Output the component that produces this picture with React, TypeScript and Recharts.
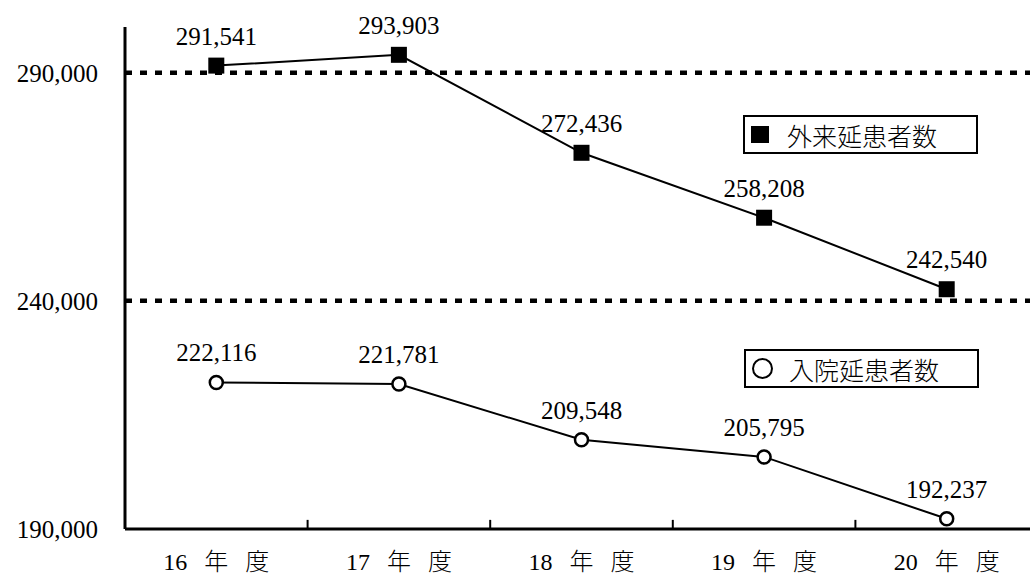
import React from 'react';
import { LineChart, Line, XAxis, YAxis, ReferenceLine, LabelList } from 'recharts';

const categories = ['16 年 度', '17 年 度', '18 年 度', '19 年 度', '20 年 度'];
const outpatients = [291541, 293903, 272436, 258208, 242540];
const inpatients = [222116, 221781, 209548, 205795, 192237];
const yTicks = [190000, 240000, 290000];
const gridValues = [240000, 290000];

const data = categories.map((name, i) => ({
  idx: i,
  name,
  outpatients: outpatients[i],
  inpatients: inpatients[i],
}));
// category boundaries get the small upward ticks on the x axis
const boundaries = categories.slice(1).map((_, i) => i + 0.5);

const numFont = "'Liberation Serif', 'Noto Sans CJK JP', serif";
const jpFont = "'Noto Sans CJK JP', sans-serif";

const SquareDot = (props: any) => {
  const { cx, cy, index } = props;
  return <rect key={`sq-${index}`} x={cx - 8} y={cy - 8} width={16} height={16} fill="#000" />;
};

const ValueLabel = (props: any) => {
  const { x, y, value } = props;
  return (
    <text x={x} y={y - 21} textAnchor="middle" fontSize={25} fontFamily={numFont} fill="#000">
      {Number(value).toLocaleString('en-US')}
    </text>
  );
};

const CategoryTick = (props: any) => {
  const { x, y, payload } = props;
  return (
    <text
      x={x}
      y={y + 15}
      textAnchor="middle"
      fontSize={24}
      fontFamily={numFont}
      fontWeight={300}
      fill="#000"
      style={{ wordSpacing: 11 }}
    >
      {categories[payload.value]}
    </text>
  );
};

const legendBox: React.CSSProperties = {
  position: 'absolute',
  boxSizing: 'border-box',
  width: 235,
  height: 39,
  border: '2px solid #000',
  background: '#fff',
  display: 'flex',
  alignItems: 'center',
  fontFamily: jpFont,
  fontWeight: 300,
  fontSize: 25,
  color: '#000',
};

export default function App() {
  return (
    <div style={{ position: 'absolute', left: 0, top: 0, width: 1030, height: 576, overflow: 'hidden', background: '#fff' }}>
      <LineChart width={1038} height={576} data={data} margin={{ top: 27, right: 0, left: 0, bottom: 0 }}>
        <XAxis
          dataKey="idx"
          type="number"
          domain={[-0.5, 4.5]}
          ticks={[0, 1, 2, 3, 4]}
          interval={0}
          tickLine={false}
          tickSize={0}
          tickMargin={26}
          height={47}
          axisLine={{ stroke: '#000', strokeWidth: 3 }}
          tick={CategoryTick}
        />
        <YAxis
          domain={[190000, 300000]}
          ticks={yTicks}
          interval={0}
          width={125}
          tickSize={0}
          tickMargin={27}
          tickLine={false}
          tickFormatter={(v: number) => v.toLocaleString('en-US')}
          axisLine={{ stroke: '#000', strokeWidth: 3 }}
          tick={{ fill: '#000', fontSize: 25, fontFamily: numFont }}
        />
        {gridValues.map((v) => (
          <ReferenceLine
            key={v}
            y={v}
            stroke="#000"
            strokeWidth={4.5}
            strokeDasharray="7 8"
            strokeLinecap="butt"
          />
        ))}
        {boundaries.map((b) => (
          <ReferenceLine
            key={b}
            segment={[{ x: b, y: 190000 }, { x: b, y: 192000 }]}
            stroke="#000"
            strokeWidth={2}
          />
        ))}
        <Line
          dataKey="outpatients"
          stroke="#000"
          strokeWidth={2}
          dot={SquareDot}
          activeDot={false}
          isAnimationActive={false}
        >
          <LabelList dataKey="outpatients" content={ValueLabel} />
        </Line>
        <Line
          dataKey="inpatients"
          stroke="#000"
          strokeWidth={2}
          dot={{ r: 6.5, fill: '#fff', stroke: '#000', strokeWidth: 2.5 }}
          activeDot={false}
          isAnimationActive={false}
        >
          <LabelList dataKey="inpatients" content={ValueLabel} />
        </Line>
      </LineChart>
      <div style={{ ...legendBox, left: 743, top: 115 }}>
        <span style={{ display: 'inline-block', width: 18, height: 17, background: '#000', marginLeft: 6 }} />
        <span style={{ marginLeft: 18 }}>外来延患者数</span>
      </div>
      <div style={{ ...legendBox, left: 744, top: 349 }}>
        <span
          style={{
            display: 'inline-block',
            boxSizing: 'border-box',
            width: 21,
            height: 21,
            borderRadius: '50%',
            border: '2px solid #000',
            marginLeft: 6,
          }}
        />
        <span style={{ marginLeft: 16 }}>入院延患者数</span>
      </div>
    </div>
  );
}
